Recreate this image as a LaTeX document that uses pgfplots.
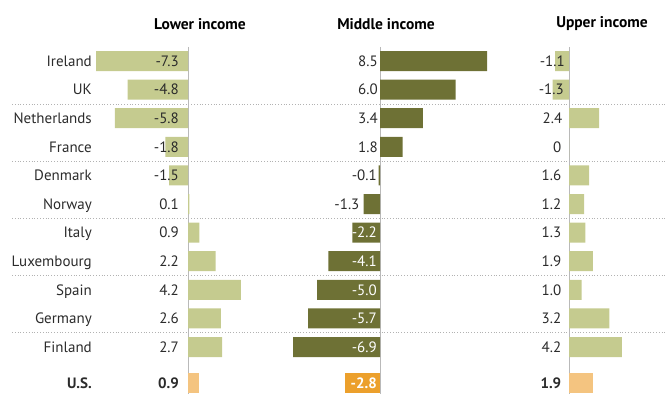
\documentclass[border=0pt]{standalone}
\usepackage{pgfplots}
\pgfplotsset{compat=1.18}
\usepackage{pgfplotstable}
\usepackage{fontspec}
\setmainfont{PT Sans}
\definecolor{lightg}{HTML}{C5CB8F}
\definecolor{darkg}{HTML}{6E7135}
\definecolor{lightor}{HTML}{F4C480}
\definecolor{darkor}{HTML}{ECA02C}
\definecolor{txt}{HTML}{2B2B2B}
\newcommand{\fs}{\fontsize{15bp}{18bp}\selectfont}

% y = row position (Ireland 0 ... Finland 10)
\pgfplotstableread{
y val lab
0 -7.3 -7.3
1 -4.8 -4.8
2 -5.8 -5.8
3 -1.8 -1.8
4 -1.5 -1.5
5 0.1 0.1
6 0.9 0.9
7 2.2 2.2
8 4.2 4.2
9 2.6 2.6
10 2.7 2.7
}\lowertab
\pgfplotstableread{
y val lab lx
0 8.5 8.5 -0.16
1 6.0 6.0 -0.16
2 3.4 3.4 -0.16
3 1.8 1.8 -0.16
4 -0.1 -0.1 -0.24
5 -1.3 -1.3 -1.62
6 -2.2 -2.2 -0.24
7 -4.1 -4.1 -0.24
8 -5.0 -5.0 -0.24
9 -5.7 -5.7 -0.24
10 -6.9 -6.9 -0.24
}\middletab
\pgfplotstableread{
y val lab lx
0 -1.1 -1.1 -0.32
1 -1.3 -1.3 -0.4
2 2.4 2.4 -0.52
3 0 0 -0.6
4 1.6 1.6 -0.6
5 1.2 1.2 -0.6
6 1.3 1.3 -0.6
7 1.9 1.9 -0.6
8 1.0 1.0 -0.6
9 3.2 3.2 -0.6
10 4.2 4.2 -0.6
}\uppertab

\pgfplotsset{
  panel/.style={
    x=12.6bp, y=28.6bp, y dir=reverse,
    ymin=-0.49, ymax=11.64,
    clip=false, anchor=origin,
    axis line style={draw=none},
    major tick length=0pt,
    xtick={0}, xticklabels={},
    xmajorgrids, grid style={gray!55, line width=0.8bp},
    ytick=\empty,
    every tick label/.append style={font=\fs, text=txt},
  },
  vlab/.style={draw=none, nodes near coords, point meta=explicit symbolic,
    every node near coord/.style={anchor=east, inner sep=0pt, font=\fs, text=#1,
      text height=10.5bp, text depth=0pt}},
}

\begin{document}
\begin{tikzpicture}[font=\fs]
\useasboundingbox (0,0) rectangle (667bp,-394bp);

% dotted separators
\foreach \yy in {104,161,218,275.5,332.7}
  \draw[gray!60, line width=0.8bp, dash pattern=on 0.8bp off 2bp] (12bp,-\yy bp) -- (667bp,-\yy bp);

% Lower income
\begin{axis}[panel, at={(188bp,-61bp)}, xmin=-7.62, xmax=5,
  ytick={0,1,2,3,4,5,6,7,8,9,10,11.26},
  yticklabels={Ireland,UK,Netherlands,France,Denmark,Norway,Italy,Luxembourg,Spain,Germany,Finland,\textbf{U.S.}},
  yticklabel style={anchor=east, inner sep=0pt, text height=10.5bp, text depth=0pt}]
\addplot[xbar, bar shift=0pt, bar width=20bp, fill=lightg, draw=none] table[x=val, y=y]{\lowertab};
\addplot[xbar, bar shift=0pt, bar width=20bp, fill=lightor, draw=none] coordinates {(0.9,11.26)};
\addplot[vlab=txt] table[x expr=-0.71, y=y, meta=lab]{\lowertab};
\addplot[vlab=txt, every node near coord/.append style={font=\fs\bfseries}] coordinates {(-0.71,11.26)[0.9]};
\end{axis}

% Middle income
\begin{axis}[panel, at={(380bp,-61bp)}, xmin=-8, xmax=9]
\addplot[xbar, bar shift=0pt, bar width=20bp, fill=darkg, draw=none] table[x=val, y=y]{\middletab};
\addplot[xbar, bar shift=0pt, bar width=20bp, fill=darkor, draw=none] coordinates {(-2.8,11.26)};
\addplot[vlab=txt, restrict y to domain=0:5] table[x=lx, y=y, meta=lab]{\middletab};
\addplot[vlab=white, restrict y to domain=6:10] table[x=lx, y=y, meta=lab]{\middletab};
\addplot[vlab=white, every node near coord/.append style={font=\fs\bfseries}] coordinates {(-0.24,11.26)[-2.8]};
\end{axis}

% Upper income
\begin{axis}[panel, at={(569bp,-61bp)}, xmin=-2, xmax=7.5]
\addplot[xbar, bar shift=0pt, bar width=20bp, fill=lightg, draw=none] table[x=val, y=y]{\uppertab};
\addplot[xbar, bar shift=0pt, bar width=20bp, fill=lightor, draw=none] coordinates {(1.9,11.26)};
\addplot[vlab=txt] table[x=lx, y=y, meta=lab]{\uppertab};
\addplot[vlab=txt, every node near coord/.append style={font=\fs\bfseries}] coordinates {(-0.6,11.26)[1.9]};
\end{axis}

% headers
\node[font=\fontsize{15.5bp}{18bp}\selectfont\bfseries, text=black] at (200bp,-24bp) {Lower income};
\node[font=\fontsize{15.5bp}{18bp}\selectfont\bfseries, text=black] at (386bp,-24bp) {Middle income};
\node[font=\fontsize{15.5bp}{18bp}\selectfont\bfseries, text=black] at (602bp,-24bp) {Upper income};
\end{tikzpicture}
\end{document}
